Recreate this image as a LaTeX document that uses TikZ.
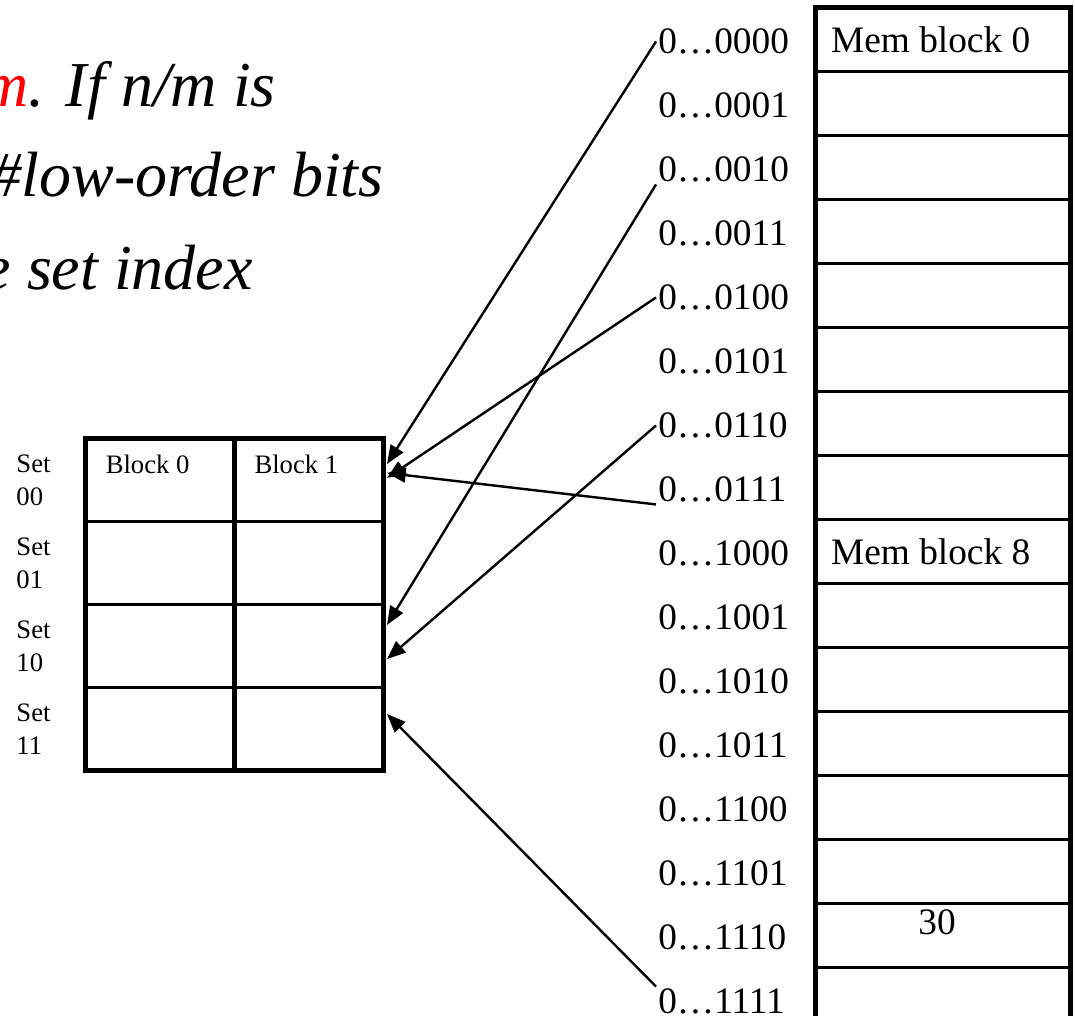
\documentclass[tikz,border=0pt]{standalone}
\usepackage{fontspec}
\setmainfont{Liberation Serif}
\usetikzlibrary{arrows.meta, positioning, calc}
\definecolor{HighlightRed}{RGB}{255, 0, 0}
\newdimen\px \px=0.75pt
\tikzset{
    memrow/.style={draw, line width=1.6pt, minimum width=255\px, minimum height=64\px, inner sep=0pt, outer sep=0pt},
    cell/.style={draw, line width=1.6pt, minimum width=148.75\px, minimum height=83\px, inner sep=0pt, outer sep=0pt},
    thickframe/.style={line width=3.75pt},
    addr/.style={font=\fontsize{28}{34}\selectfont, inner xsep=1.5pt, inner ysep=1.5pt, anchor=west},
    memtext/.style={font=\fontsize{28}{34}\selectfont, inner sep=0pt},
    setlabel/.style={font=\fontsize{20}{24.75}\selectfont, inner sep=0pt, align=left},
    headline/.style={font=\fontsize{48}{58}\selectfont\itshape, inner sep=0pt, anchor=base east},
    arr/.style={-{Triangle[length=14pt, width=11pt]}, line width=1.8pt}
}

\begin{document}
\begin{tikzpicture}[x=0.75pt, y=-0.75pt]
    \useasboundingbox (0,0) rectangle (1075,1016);
    \fill[white] (0,0) rectangle (1075,1016);
    \clip (0,0) rectangle (1075,1016);

    % heading lines, running off the left edge
    \node[headline] (h1) at (276,107) {\textcolor{HighlightRed}{m}. If n/m is};
    \node[headline] (h2) at (384,197) {\#low-order bits};
    \node[headline] (h3) at (253,290) {e set index};

    % main memory and its addresses
    \foreach \i/\bits in {0/0000,1/0001,2/0010,3/0011,4/0100,5/0101,6/0110,7/0111,
                          8/1000,9/1001,10/1010,11/1011,12/1100,13/1101,14/1110,15/1111} {
        \node[memrow] (m\i) at (943, 39.5+64*\i) {};
        \node[addr] (a\i) at (656, 41.5+64*\i) {0…\bits};
    }
    \draw[thickframe] (m0.north west) rectangle (m15.south east);
    \node[memtext, right=11.5pt of m0.west, anchor=west] (mb0) {Mem block 0};
    \node[memtext, right=11.5pt of m8.west, anchor=west] (mb8) {Mem block 8};
    \node[memtext] (v30) at ($(m14.center)+(-6,-13)$) {30};

    % 2-way cache, four sets
    \foreach \r/\bits in {0/00,1/01,2/10,3/11} {
        \foreach \c in {0,1}
            \node[cell] (c\r\c) at (159.875+148.75*\c, 480+83*\r) {};
        \node[setlabel, left=26pt of c\r0] (l\r) {Set\\\bits};
    }
    \draw[thickframe] (c00.north west) rectangle (c31.south east);
    \draw[thickframe] (c00.north east) -- (c30.south east);
    \node[setlabel, below right=12pt and 15pt of c00.north west] (b0) {Block 0};
    \node[setlabel, below right=12pt and 15pt of c01.north west] (b1) {Block 1};

    % mapping arrows
    \draw[arr] (a0.west) -- ($(c01.east)+(4,-16)$);
    \draw[arr] (a4.west) -- ($(c01.east)+(4,-2)$);
    \draw[arr] (a7.south west) -- ($(c01.east)+(4,-7)$);
    \draw[arr] (a2.south west) -- ($(c21.east)+(4,-21)$);
    \draw[arr] (a6.west) -- ($(c21.east)+(4,13)$);
    \draw[arr] (a15.north west) -- ($(c31.east)+(4,-15)$);
\end{tikzpicture}
\end{document}
